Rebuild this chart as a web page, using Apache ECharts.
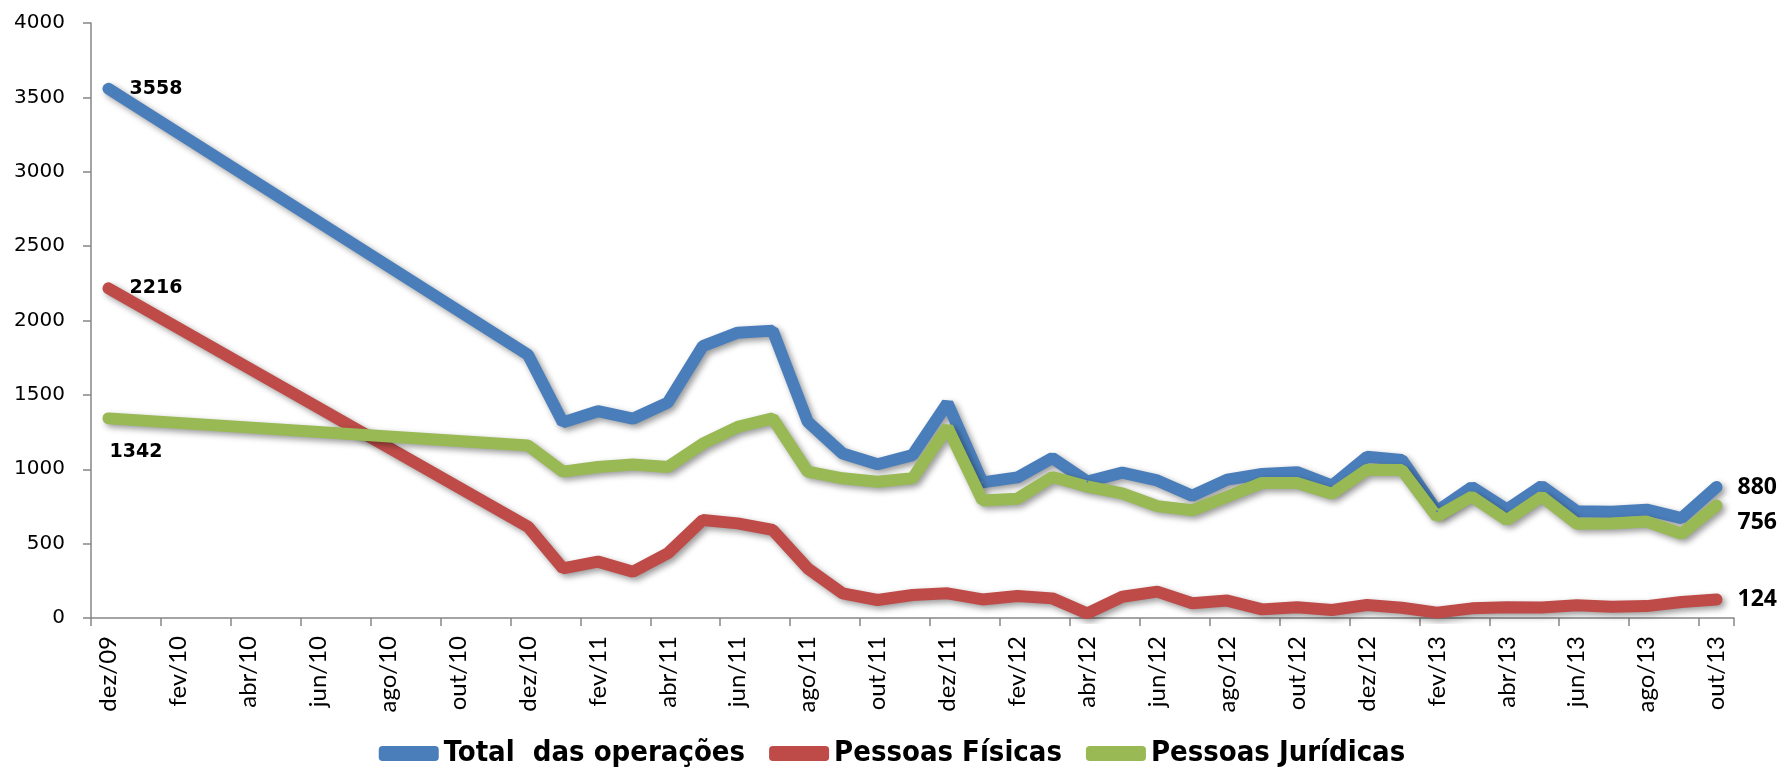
<!DOCTYPE html>
<html>
<head>
    <meta charset="utf-8">
    <title>Operações</title>
    <script src="https://cdn.jsdelivr.net/npm/echarts@6/dist/echarts.min.js"></script>
    <style>
    *{margin:0px; padding:0px;}
    body{background:#fff;}
    #main{width:1784px; height:771px;}
    </style>
</head>
<body>
    <div id="main"></div>
    <script type="text/javascript">
        // meses dez/09 .. out/13 (sem dados de jan/10 a nov/10)
        var meses = ['dez/09','jan/10','fev/10','mar/10','abr/10','mai/10','jun/10','jul/10','ago/10','set/10','out/10','nov/10',
            'dez/10','jan/11','fev/11','mar/11','abr/11','mai/11','jun/11','jul/11','ago/11','set/11','out/11','nov/11',
            'dez/11','jan/12','fev/12','mar/12','abr/12','mai/12','jun/12','jul/12','ago/12','set/12','out/12','nov/12',
            'dez/12','jan/13','fev/13','mar/13','abr/13','mai/13','jun/13','jul/13','ago/13','set/13','out/13'];

        var total = [3558,null,null,null,null,null,null,null,null,null,null,null,
            1770,1315,1390,1340,1448,1828,1918,1932,1320,1106,1034,1095,
            1445,912,945,1075,918,977,925,822,930,968,980,890,
            1084,1063,718,880,730,887,718,714,728,672,880];
        var fisicas = [2216,null,null,null,null,null,null,null,null,null,null,null,
            614,334,379,311,435,659,636,592,334,166,121,155,
            166,125,148,132,31,143,177,99,117,58,72,54,
            87,69,36,65,72,70,85,76,80,108,124];
        var juridicas = [1342,null,null,null,null,null,null,null,null,null,null,null,
            1160,984,1015,1032,1015,1172,1285,1342,984,939,916,939,
            1282,790,802,948,884,838,752,724,815,908,908,836,
            997,995,682,816,658,816,634,636,648,566,756];

        var nomes = ['Total  das operações', 'Pessoas Físicas', 'Pessoas Jurídicas'];
        var cores = ['#4a7ebb', '#be4b48', '#98b954'];

        // rótulos só no primeiro e no último ponto
        function comRotulos(arr, first, last) {
            return arr.map(function (v, i) {
                if (i === 0) return {value: v, label: first};
                if (i === arr.length - 1) return {value: v, label: last};
                return v;
            });
        }
        var rotIni = {show: true, position: 'right', distance: 20, fontFamily: 'DejaVu Sans', fontWeight: 'bold', fontSize: 19, color: '#000'};
        var rotFim = {show: true, position: 'right', distance: 20, fontFamily: 'Open Sans', fontWeight: 'bold', fontSize: 23, color: '#000'};

        function serie(idx, data, ini, fim) {
            return {
                name: nomes[idx],
                type: 'line',
                data: comRotulos(data, ini, fim),
                connectNulls: true,
                symbol: 'circle',
                symbolSize: 2,
                label: {show: false},
                lineStyle: {
                    width: 12,
                    color: cores[idx],
                    cap: 'round',
                    shadowColor: 'rgba(0,0,0,0.4)',
                    shadowBlur: 6,
                    shadowOffsetX: 3,
                    shadowOffsetY: 3
                },
                itemStyle: {color: cores[idx]},
                emphasis: {disabled: true}
            };
        }

        var myChart = echarts.init(document.getElementById('main'));
        var option = {
            animation: false,
            grid: {left: 91, right: 50, top: 23, bottom: 153},
            legend: {
                bottom: -2,
                left: 'center',
                data: nomes,
                itemWidth: 60,
                itemHeight: 15,
                itemGap: 24,
                icon: 'roundRect',
                textStyle: {fontFamily: 'DejaVu Sans Condensed, Roboto Condensed, Roboto', fontWeight: 'bold', fontSize: 29, color: '#000'}
            },
            xAxis: {
                type: 'category',
                data: meses,
                boundaryGap: true,
                axisLine: {lineStyle: {color: '#868686', width: 1.5}},
                axisTick: {show: true, interval: 1, length: 8, lineStyle: {color: '#868686', width: 1.5}},
                axisLabel: {interval: 1, rotate: 90, margin: 18, fontFamily: 'Lato', fontSize: 24, color: '#000'},
                splitLine: {show: false}
            },
            yAxis: {
                type: 'value',
                min: 0,
                max: 4000,
                interval: 500,
                axisLine: {show: true, lineStyle: {color: '#868686', width: 1.5}},
                axisTick: {show: true, length: 8, lineStyle: {color: '#868686', width: 1.5}},
                axisLabel: {margin: 26, fontFamily: 'DejaVu Sans', fontSize: 20, color: '#000',
                    formatter: function (v) { return String(v); }},
                splitLine: {show: false}
            },
            series: [
                serie(0, total, rotIni, rotFim),
                serie(1, fisicas, rotIni, rotFim),
                serie(2, juridicas,
                    {show: true, position: 'right', distance: 0, offset: [0, 34], fontFamily: 'DejaVu Sans', fontWeight: 'bold', fontSize: 19, color: '#000'},
                    {show: true, position: 'right', distance: 20, offset: [0, 17], fontFamily: 'Open Sans', fontWeight: 'bold', fontSize: 23, color: '#000'})
            ]
        };
        myChart.setOption(option);
    </script>
</body>
</html>
